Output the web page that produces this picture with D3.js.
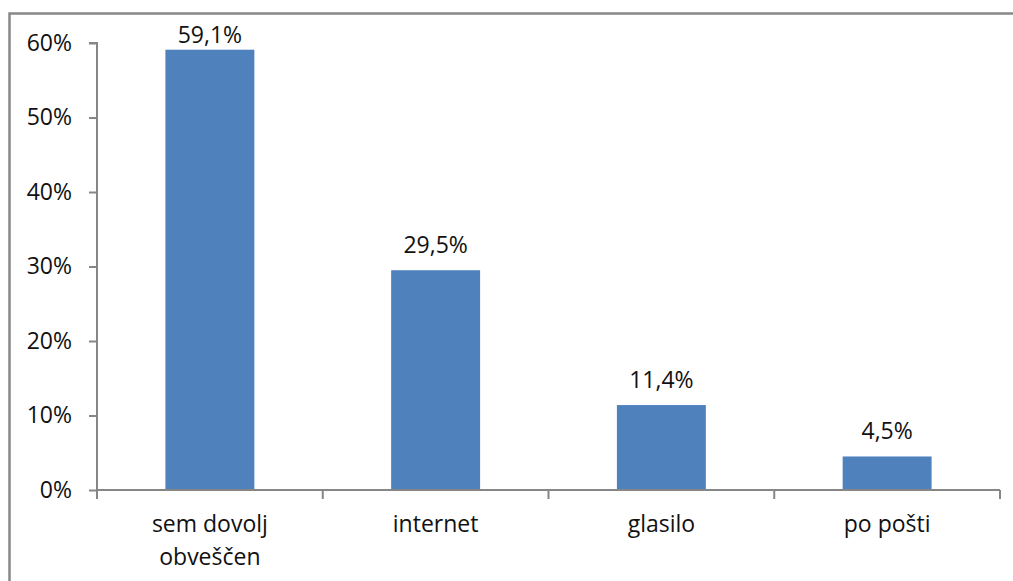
<!DOCTYPE html>
<html>
<head>
<meta charset="utf-8">
<script src="https://cdn.jsdelivr.net/npm/d3@7/dist/d3.min.js"></script>
<style>
  html, body { margin: 0; padding: 0; background: #fff; }
  svg { display: block; }
  text { font-family: "Open Sans", "Liberation Sans", sans-serif; fill: #111; }
</style>
</head>
<body>
<svg id="chart" width="1013" height="581"></svg>
<script>
// Survey answers and their shares (percent)
const categories = [["sem dovolj", "obveščen"], ["internet"], ["glasilo"], ["po pošti"]];
const values = [59.1, 29.5, 11.4, 4.5];
const yTicks = [0, 10, 20, 30, 40, 50, 60];

const svg = d3.select("#chart");
const W = 1013, H = 581;
const plot = { left: 97, right: 1000, top: 43, bottom: 490 };
const axisColor = "#868686";

// Outer frame (top and left edges visible)
svg.append("path")
  .attr("d", `M9.5,${H} L9.5,13.5 L${W},13.5`)
  .attr("fill", "none")
  .attr("stroke", "#888")
  .attr("stroke-width", 2.5);

const x = d3.scaleBand()
  .domain(d3.range(categories.length))
  .range([plot.left, plot.right])
  .paddingInner(0.606)
  .paddingOuter(0.303);

const xGroup = d3.scaleBand()
  .domain(d3.range(categories.length))
  .range([plot.left, plot.right]);

const y = d3.scaleLinear()
  .domain([0, 60])
  .range([plot.bottom, plot.top]);

// Bars
svg.append("g").selectAll("rect")
  .data(values)
  .join("rect")
  .attr("x", (d, i) => x(i))
  .attr("width", x.bandwidth())
  .attr("y", d => y(d))
  .attr("height", d => y(0) - y(d))
  .attr("fill", "#4F81BD");

// Y axis
const yAxis = d3.axisLeft(y)
  .tickValues(yTicks)
  .tickFormat(d => d + "%")
  .tickSize(8)
  .tickPadding(17);

const gy = svg.append("g")
  .attr("transform", `translate(${plot.left},0)`)
  .call(yAxis);
gy.select(".domain").attr("stroke", axisColor).attr("stroke-width", 2)
  .attr("d", `M-8,${plot.top}H0V${plot.bottom + 8}`);
gy.selectAll(".tick line").attr("stroke", axisColor).attr("stroke-width", 2);
gy.selectAll(".tick text")
  .style("font-size", "23px")
  .attr("fill", "#111")
  .attr("font-family", null);

// X axis line with boundary ticks
const gx = svg.append("g");
gx.append("line")
  .attr("x1", plot.left).attr("x2", plot.right)
  .attr("y1", plot.bottom).attr("y2", plot.bottom)
  .attr("stroke", axisColor).attr("stroke-width", 2);
const boundaries = d3.range(categories.length + 1).map(i =>
  i < categories.length ? xGroup(i) : plot.right);
gx.selectAll("line.tick")
  .data(boundaries)
  .join("line")
  .attr("class", "tick")
  .attr("x1", d => d).attr("x2", d => d)
  .attr("y1", plot.bottom).attr("y2", plot.bottom + 9)
  .attr("stroke", axisColor).attr("stroke-width", 2);

// Category labels
const catLabels = svg.append("g").selectAll("text")
  .data(categories)
  .join("text")
  .attr("text-anchor", "middle")
  .style("font-size", "23px")
  .attr("transform", (d, i) => `translate(${xGroup(i) + xGroup.bandwidth() / 2},532)`);
catLabels.selectAll("tspan")
  .data(d => d)
  .join("tspan")
  .attr("x", 0)
  .attr("y", (d, j) => j * 33)
  .text(d => d);

// Value labels above bars
const fmt = v => v.toFixed(1).replace(".", ",") + "%";
svg.append("g").selectAll("text")
  .data(values)
  .join("text")
  .attr("text-anchor", "middle")
  .style("font-size", "23px")
  .attr("x", (d, i) => x(i) + x.bandwidth() / 2)
  .attr("y", d => Math.max(y(d) - 17, 42.5))
  .text(fmt);
</script>
</body>
</html>
